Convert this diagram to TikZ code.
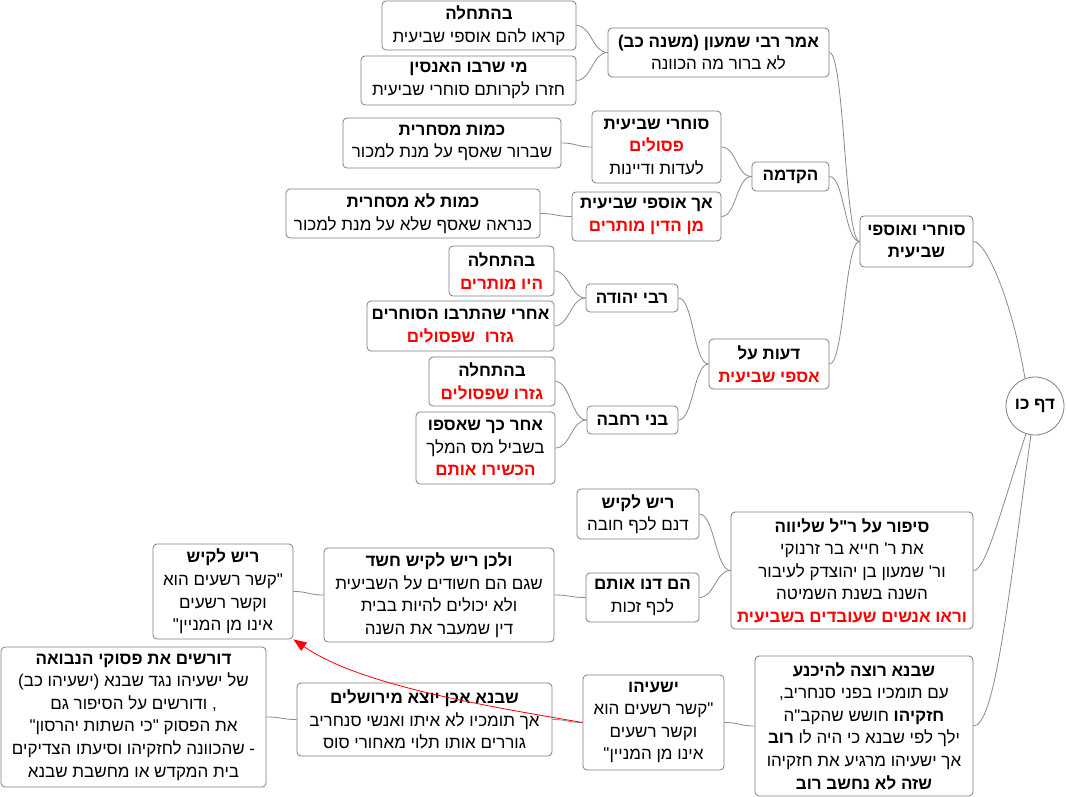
\documentclass[tikz,border=0pt]{standalone}
\usepackage{fontspec}
\usetikzlibrary{arrows.meta}
\TeXXeTstate=1
\newfontfamily\heb[Script=Hebrew,Ligatures=TeXOff]{Liberation Sans}
\definecolor{hred}{HTML}{FF0000}
\definecolor{bordergray}{HTML}{7F7F7F}
\definecolor{linegray}{HTML}{8A8A8A}
\newcommand\rl[1]{\beginR #1\endR}
\newcommand\rb[1]{{\bfseries\beginR #1\endR}}
\newcommand\rr[1]{{\bfseries\color{hred}\beginR #1\endR}}
\newcommand\mmconn[2]{\draw[connline] (#1.west) .. controls +(-15,0) and +(15,0) .. (#2.east);}
\tikzset{
  mmbox/.style={draw=bordergray, line width=0.8pt, rounded corners=4pt, fill=white,
    align=center, inner sep=0pt, font=\heb\fontsize{17}{22.6}\selectfont},
  connline/.style={draw=linegray, line width=0.8pt},
  rootnode/.style={draw=bordergray, line width=0.8pt, circle, fill=white, minimum size=58pt,
    inner sep=0pt, font=\heb\fontsize{17}{22.6}\selectfont},
}
\begin{document}
\begin{tikzpicture}[x=1pt,y=-1pt]
\fill[white] (0,0) rectangle (1066,797);
\useasboundingbox (0,0) rectangle (1066,797);

% nodes
\node[mmbox, minimum width=194pt, minimum height=49pt] (n1) at (479,25.5) {\rb{בהתחלה}\\ \rl{קראו להם אוספי שביעית}};
\node[mmbox, minimum width=215pt, minimum height=49pt] (n2) at (468.5,80.5) {\rb{מי שרבו האנסין}\\ \rl{חזרו לקרותם סוחרי שביעית}};
\node[mmbox, minimum width=221pt, minimum height=49pt] (n3) at (718.5,52.5) {\rb{אמר רבי שמעון (משנה כב)}\\ \rl{לא ברור מה הכוונה}};
\node[mmbox, minimum width=218pt, minimum height=50pt] (n4) at (452,143) {\rb{כמות מסחרית}\\ \rl{שברור שאסף על מנת למכור}};
\node[mmbox, minimum width=129pt, minimum height=72pt] (n5) at (656.5,147) {\rb{סוחרי שביעית}\\ \rr{פסולים}\\ \rl{לעדות ודיינות}};
\node[mmbox, minimum width=77pt, minimum height=29pt] (n6) at (790.5,176.5) {\rb{הקדמה}};
\node[mmbox, minimum width=254pt, minimum height=49pt] (n7) at (413,213.5) {\rb{כמות לא מסחרית}\\ \rl{כנראה שאסף שלא על מנת למכור}};
\node[mmbox, minimum width=149pt, minimum height=49pt] (n8) at (646.5,216.5) {\rb{אך אוספי שביעית}\\ \rr{מן הדין מותרים}};
\node[mmbox, minimum width=113pt, minimum height=51pt] (n9) at (916.5,241.5) {\rb{סוחרי ואוספי}\\ \rb{שביעית}};
\node[mmbox, minimum width=105pt, minimum height=50pt] (n10) at (501.5,271) {\rb{בהתחלה}\\ \rr{היו מותרים}};
\node[mmbox, minimum width=187pt, minimum height=50pt] (n11) at (460.5,326) {\rb{אחרי שהתרבו הסוחרים}\\ \rr{גזרו \ שפסולים}};
\node[mmbox, minimum width=92pt, minimum height=28pt] (n12) at (632,298) {\rb{רבי יהודה}};
\node[mmbox, minimum width=120pt, minimum height=50pt] (n13) at (769,364) {\rb{דעות על}\\ \rr{אספי שביעית}};
\node[mmbox, minimum width=126pt, minimum height=49pt] (n14) at (492,381.5) {\rb{בהתחלה}\\ \rr{גזרו שפסולים}};
\node[mmbox, minimum width=139pt, minimum height=72pt] (n15) at (485.5,448) {\rb{אחר כך שאספו}\\ \rl{בשביל מס המלך}\\ \rr{הכשירו אותם}};
\node[mmbox, minimum width=91pt, minimum height=28pt] (n16) at (632.5,420) {\rb{בני רחבה}};
\node[rootnode] (root) at (1035,406) {\rb{דף כו}};
\node[mmbox, minimum width=122pt, minimum height=50pt] (n18) at (638,514) {\rb{ריש לקיש}\\ \rl{דנם לכף חובה}};
\node[mmbox, minimum width=242pt, minimum height=117pt] (n19) at (852,570.5) {\rb{סיפור על ר"ל שליווה}\\ \rl{את ר' חייא בר זרנוקי}\\ \rl{ור' שמעון בן יהוצדק לעיבור}\\ \rl{השנה בשנת השמיטה}\\ \rr{וראו אנשים שעובדים בשביעית}};
\node[mmbox, minimum width=113pt, minimum height=49pt] (n20) at (642.5,597.5) {\rb{הם דנו אותם}\\ \rl{לכף זכות}};
\node[mmbox, minimum width=230pt, minimum height=94pt] (n21) at (439,595) {\rb{ולכן ריש לקיש חשד}\\ \rl{שגם הם חשודים על השביעית}\\ \rl{ולא יכולים להיות בבית}\\ \rl{דין שמעבר את השנה}};
\node[mmbox, minimum width=140pt, minimum height=95pt] (n22) at (223,591.5) {\rb{ריש לקיש}\\ \rl{"קשר רשעים הוא}\\ \rl{וקשר רשעים}\\ \rl{אינו מן המניין"}};
\node[mmbox, minimum width=265pt, minimum height=140pt] (n23) at (133.5,717) {\rb{דורשים את פסוקי הנבואה}\\ \rl{של ישעיהו נגד שבנא (ישעיהו כב)}\\ \rl{, ודורשים על הסיפור גם}\\ \rl{את הפסוק "כי השתות יהרסון"}\\ \rl{- שהכוונה לחזקיהו וסיעתו הצדיקים}\\ \rl{בית המקדש או מחשבת שבנא}};
\node[mmbox, minimum width=255pt, minimum height=73pt] (n24) at (424.5,719.5) {\rb{שבנא אכן יוצא מירושלים}\\ \rl{אך תומכיו לא איתו ואנשי סנחריב}\\ \rl{גוררים אותו תלוי מאחורי סוס}};
\node[mmbox, minimum width=141pt, minimum height=95pt] (n25) at (653.5,722.5) {\rb{ישעיהו}\\ \rl{"קשר רשעים הוא}\\ \rl{וקשר רשעים}\\ \rl{אינו מן המניין"}};
\node[mmbox, minimum width=218pt, minimum height=140pt] (n26) at (864,726) {\rb{שבנא רוצה להיכנע}\\ \rl{עם תומכיו בפני סנחריב,}\\ \rl{\textbf{חזקיהו} חושש שהקב"ה}\\ \rl{ילך לפי שבנא כי היה לו \textbf{רוב}}\\ \rl{אך ישעיהו מרגיע את חזקיהו}\\ \rb{שזה לא נחשב רוב}};

% connectors
\begin{scope}[on background layer/.style={}]
\mmconn{n3}{n1}
\mmconn{n3}{n2}
\mmconn{n5}{n4}
\mmconn{n6}{n5}
\mmconn{n6}{n8}
\mmconn{n8}{n7}
\mmconn{n9}{n3}
\mmconn{n9}{n6}
\mmconn{n9}{n13}
\mmconn{n12}{n10}
\mmconn{n12}{n11}
\mmconn{n13}{n12}
\mmconn{n13}{n16}
\mmconn{n16}{n14}
\mmconn{n16}{n15}
\mmconn{n19}{n18}
\mmconn{n19}{n20}
\mmconn{n20}{n21}
\mmconn{n21}{n22}
\mmconn{n26}{n25}
\mmconn{n25}{n24}
\mmconn{n24}{n23}
\draw[connline] (root.110) .. controls (1012,300) and (986,241.5) .. (n9.east);
\draw[connline] (root.252) .. controls (997,524) and (985,570.5) .. (n19.east);
\draw[connline] (root.262) .. controls (1008,600) and (995,726) .. (n26.east);
\end{scope}

% red arrow
\draw[hred, line width=0.8pt, -{Triangle[length=13pt,width=10pt]}] (n25.west) .. controls (480,705) and (360,685) .. (n22.south east);
\end{tikzpicture}
\end{document}
